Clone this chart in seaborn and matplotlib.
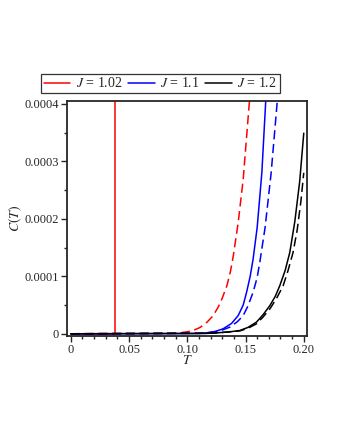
import numpy as np
import matplotlib
matplotlib.use("Agg")
import matplotlib.pyplot as plt
from matplotlib.lines import Line2D
from matplotlib.ticker import MultipleLocator, FixedLocator
import seaborn as sns

# C in units of 1e-4
t_red_solid = [0.0, 0.038, 0.038]
c_red_solid = [0.0, 0.0, 4.3]

t_red_dash = [0.0, 0.090, 0.094, 0.100, 0.105, 0.111, 0.117, 0.122, 0.1265,
              0.130, 0.134, 0.137, 0.1395, 0.1437, 0.148, 0.1531, 0.154]
c_red_dash = [0.0, 0.008, 0.017, 0.035, 0.057, 0.11, 0.203, 0.31, 0.462,
              0.62, 0.836, 1.08, 1.356, 1.934, 2.69, 3.98, 4.2]

t_blue_solid = [0.0, 0.110, 0.1166, 0.124, 0.1308, 0.138, 0.1437, 0.148, 0.1509,
                0.154, 0.1565, 0.160, 0.164, 0.1674, 0.168]
c_blue_solid = [0.0, 0.006, 0.017, 0.04, 0.087, 0.18, 0.317, 0.50, 0.722,
                1.0, 1.299, 1.85, 2.8, 4.07, 4.2]

t_blue_dash = [0.0, 0.115, 0.1222, 0.130, 0.1366, 0.143, 0.148, 0.152, 0.1565,
               0.160, 0.1623, 0.1668, 0.172, 0.1771, 0.178]
c_blue_dash = [0.0, 0.01, 0.03, 0.065, 0.116, 0.21, 0.317, 0.48, 0.722,
               0.98, 1.25, 1.85, 2.8, 4.01, 4.2]

t_black_solid = [0.0, 0.115, 0.1222, 0.135, 0.1451, 0.152, 0.1594, 0.165, 0.1709,
                 0.1755, 0.1794, 0.184, 0.188, 0.1923, 0.1965, 0.2]
c_black_solid = [0.0, 0.005, 0.012, 0.03, 0.057, 0.11, 0.203, 0.33, 0.49,
                 0.65, 0.836, 1.1, 1.415, 1.95, 2.65, 3.49]

t_black_dash = [0.0, 0.1222, 0.1451, 0.152, 0.1594, 0.165, 0.1709, 0.1765, 0.1823,
                0.1865, 0.1908, 0.1943, 0.1975, 0.2]
c_black_dash = [0.0, 0.01, 0.05, 0.095, 0.173, 0.29, 0.433, 0.61, 0.836,
                1.1, 1.415, 1.8, 2.3, 2.8]

labels = ["$J$ = 1.02", "$J$ = 1.1", "$J$ = 1.2"]
colors = ["#ff0000", "#0000ff", "#000000"]

sns.set_style("ticks")
plt.rcParams["font.family"] = ["Liberation Serif", "DejaVu Serif"]
plt.rcParams["mathtext.fontset"] = "stix"

fig = plt.figure(figsize=(3.4, 4.4), dpi=100)
ax = fig.add_axes([0.198, 0.2375, 0.704, 0.533])

sc = 1e-4
series = [
    (t_red_solid, c_red_solid, colors[0], "-"),
    (t_red_dash, c_red_dash, colors[0], "--"),
    (t_blue_solid, c_blue_solid, colors[1], "-"),
    (t_blue_dash, c_blue_dash, colors[1], "--"),
    (t_black_solid, c_black_solid, colors[2], "-"),
    (t_black_dash, c_black_dash, colors[2], "--"),
]
for t, c, col, ls in series:
    sns.lineplot(x=t, y=np.array(c) * sc, ax=ax, color=col, lw=1.1,
                 sort=False, estimator=None, legend=False)
    if ls == "--":
        ax.lines[-1].set_dashes((6, 3))

ax.set_xlim(-0.003, 0.2025)
ax.set_ylim(-0.000003, 0.000405)

ax.xaxis.set_major_locator(FixedLocator([0, 0.05, 0.10, 0.15, 0.20]))
ax.set_xticklabels(["0", "0.05", "0.10", "0.15", "0.20"])
ax.xaxis.set_minor_locator(MultipleLocator(0.01))
ax.yaxis.set_major_locator(FixedLocator([0, 0.0001, 0.0002, 0.0003, 0.0004]))
ax.set_yticklabels(["0", "0.0001", "0.0002", "0.0003", "0.0004"])
ax.yaxis.set_minor_locator(MultipleLocator(0.00005))

ax.tick_params(which="major", direction="out", length=4, width=1.0, labelsize=9, pad=2)
ax.tick_params(which="minor", direction="out", length=2.5, width=1.0)
ax.tick_params(top=False, right=False, which="both")
for s in ax.spines.values():
    s.set_linewidth(1.3)
    s.set_visible(True)

ax.set_xlabel("$T$", fontsize=10, labelpad=-1)
ax.set_ylabel("$C(T)$", fontsize=10, labelpad=0)

handles = [Line2D([], [], color=c, lw=1.1) for c in colors]
leg = fig.legend(handles, labels, loc="center", bbox_to_anchor=(0.472, 0.8105),
                 bbox_transform=fig.transFigure, ncol=3, fontsize=10,
                 frameon=True, fancybox=False, handlelength=1.9,
                 columnspacing=0.4, handletextpad=0.4, borderpad=0.2,
                 borderaxespad=0)
leg.get_frame().set_edgecolor("black")
leg.get_frame().set_linewidth(0.9)

fig.savefig("out.png", dpi=100)
